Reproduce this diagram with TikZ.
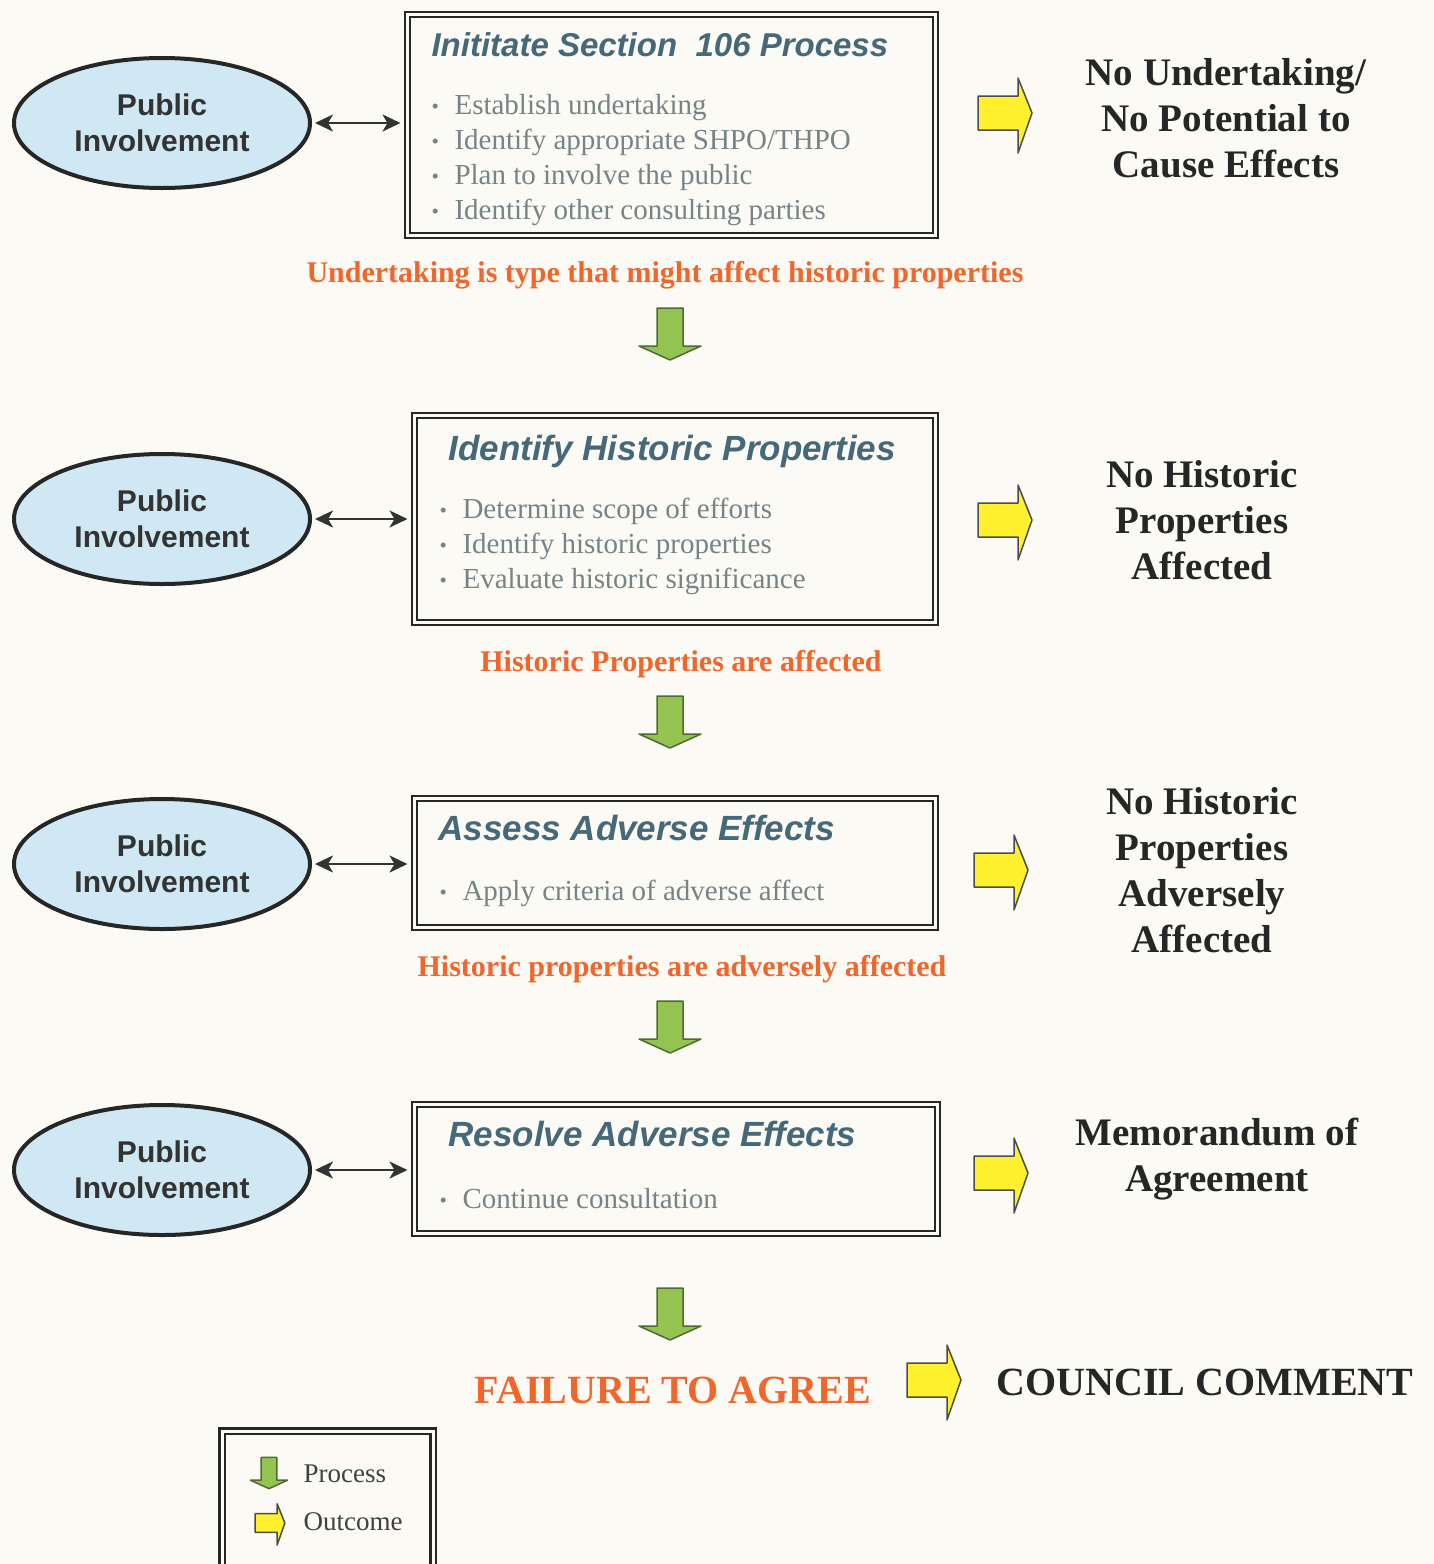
\documentclass[tikz,border=0pt]{standalone}
\usepackage{fontspec}
\setmainfont{Liberation Serif}
\setsansfont{Liberation Sans}
\usepackage{tikz}
\usetikzlibrary{shapes.geometric, arrows.meta}

\definecolor{bgcol}{HTML}{FBFAF4}
\definecolor{ellfill}{HTML}{CFE8F3}
\definecolor{titlecol}{HTML}{46697A}
\definecolor{itemcol}{HTML}{768387}
\definecolor{warncol}{HTML}{F2652B}
\definecolor{procfill}{HTML}{93C452}
\definecolor{procline}{HTML}{4F6B35}
\definecolor{outfill}{HTML}{FFF12E}

\newcommand{\fsz}[2]{\fontsize{#1}{#2}\selectfont}
\newcommand{\itm}{\makebox[23pt][l]{\raisebox{1pt}{\fsz{21}{21}\textbullet}}}

\tikzset{
  procarrow/.pic={\draw[procline, fill=procfill, line width=1.5pt, line join=round]
    (-13,-26) -- (13,-26) -- (13,12) -- (31,12) -- (0,26) -- (-31,12) -- (-13,12) -- cycle;},
  outarrow/.pic={\draw[black!70, fill=outfill, line width=1.5pt, line join=round]
    (-27,-17) -- (13,-17) -- (13,-35) -- (27,0) -- (13,40) -- (13,17) -- (-27,17) -- cycle;}
}

\begin{document}
\begin{tikzpicture}[x=1pt, y=-1pt,
  pub/.style = {ellipse, draw=black!85, line width=4pt, fill=ellfill, minimum width=296pt,
    minimum height=130pt, inner sep=0pt, align=center, text=black!80, font=\sffamily\bfseries\fsz{30}{36}},
  stage/.style = {draw=black!85, line width=2pt, double=bgcol, double distance=2.4pt, inner sep=0pt},
  ttl/.style = {anchor=mid west, text=titlecol, font=\sffamily\bfseries\itshape\fsz{#1}{#1}},
  ttl/.default = 35,
  items/.style = {anchor=west, align=left, text=itemcol, font=\fsz{29}{35}},
  cond/.style = {text=warncol, font=\bfseries\fsz{30}{36}},
  result/.style = {align=center, text=black!85, font=\bfseries\fsz{39}{46}},
  keytext/.style = {anchor=mid west, text=black!75, font=\fsz{27}{30}},
  link/.style = {{Stealth[length=18pt,width=17pt,inset=5pt]}-{Stealth[length=18pt,width=17pt,inset=5pt]},
    line width=2.5pt, black!80, shorten <=3pt, shorten >=6pt}]

\fill[bgcol] (0,0) rectangle (1434,1564);
\useasboundingbox (0,0) rectangle (1434,1564);

\node[pub] (pub1) at (162,123) {Public\\Involvement};
\node[pub] (pub2) at (162,519) {Public\\Involvement};
\node[pub] (pub3) at (162,864) {Public\\Involvement};
\node[pub] (pub4) at (162,1170) {Public\\Involvement};

\node[stage, minimum width=528pt, minimum height=221pt] (init) at (671.5,125) {};
\node[ttl=33] (initT) at (428,54) {Inititate Section\ \ 106 Process};
\node[items] (initL) at (428,160) {\itm Establish undertaking\\ \itm Identify appropriate SHPO/THPO\\
  \itm Plan to involve the public\\ \itm Identify other consulting parties};

\node[stage, minimum width=521pt, minimum height=207pt] (ident) at (675,519) {};
\node[ttl] (identT) at (445,458) {Identify Historic Properties};
\node[items] (identL) at (436,546) {\itm Determine scope of efforts\\ \itm Identify historic properties\\
  \itm Evaluate historic significance};

\node[stage, minimum width=521pt, minimum height=129pt] (assess) at (675,863) {};
\node[ttl] (assessT) at (435,838) {Assess Adverse Effects};
\node[items] (assessL) at (436,893) {\itm Apply criteria of adverse affect};

\node[stage, minimum width=523pt, minimum height=129pt] (resolve) at (676,1169) {};
\node[ttl] (resolveT) at (445,1144) {Resolve Adverse Effects};
\node[items] (resolveL) at (436,1199) {\itm Continue consultation};

\draw[link] (pub1.east) -- (pub1.east -| init.west);
\draw[link] (pub2.east) -- (pub2.east -| ident.west);
\draw[link] (pub3.east) -- (pub3.east -| assess.west);
\draw[link] (pub4.east) -- (pub4.east -| resolve.west);

\node[cond] (cond1) at (665,275) {Undertaking is type that might affect historic properties};
\node[cond] (cond2) at (681,664) {Historic Properties are affected};
\node[cond] (cond3) at (682,969) {Historic properties are adversely affected};

\pic at (670,334) {procarrow};
\pic at (670,722) {procarrow};
\pic at (670,1027) {procarrow};
\pic at (670,1314) {procarrow};

\pic at (1005,113) {outarrow};
\pic at (1005,520) {outarrow};
\pic at (1001,870) {outarrow};
\pic at (1001,1173) {outarrow};
\pic at (934,1380) {outarrow};

\node[result] (res1) at (1226,118) {No Undertaking/\\No Potential to\\Cause Effects};
\node[result] (res2) at (1202,520) {No Historic\\Properties\\Affected};
\node[result] (res3) at (1202,870) {No Historic\\Properties\\Adversely\\Affected};
\node[result] (res4) at (1217,1159) {Memorandum of\\Agreement};

\node[text=warncol, font=\bfseries\fsz{40}{46}] (fail) at (673,1390) {FAILURE TO AGREE};
\node[text=black!85, font=\bfseries\fsz{40}{46}] (council) at (1205,1382) {COUNCIL COMMENT};

\node[stage, line width=2.5pt, double distance=3pt, minimum width=211pt, minimum height=159pt] (key) at (327.5,1510.5) {};
\pic[scale=0.6] at (269,1473) {procarrow};
\pic[scale=0.55] at (270,1523) {outarrow};
\node[keytext] (keyP) at (300,1480) {Process};
\node[keytext] (keyO) at (300,1528) {Outcome};
\end{tikzpicture}
\end{document}
